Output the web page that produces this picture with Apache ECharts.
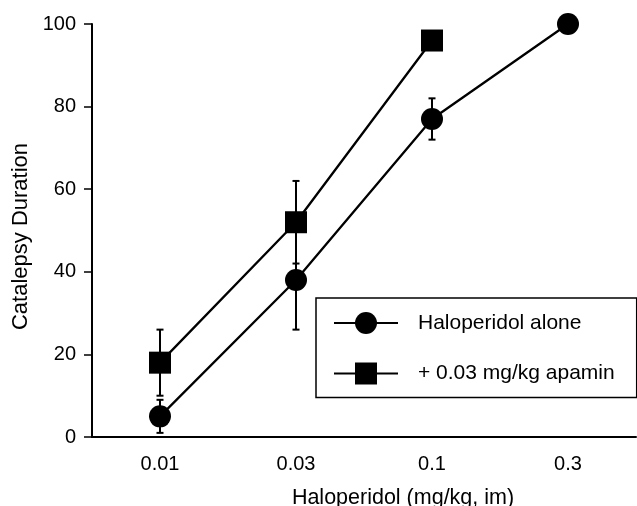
<!DOCTYPE html>
<html>
<head>
<meta charset="utf-8">
<script src="https://cdn.jsdelivr.net/npm/echarts@6/dist/echarts.min.js"></script>
<style>
    html, body { margin: 0; padding: 0; background: #fff; }
    #chart { width: 637px; height: 506px; }
</style>
</head>
<body>
<div id="chart"></div>
<script>
const doses = ["0.01", "0.03", "0.1", "0.3"];
const aloneMean = [5, 38, 77, 100];
const aloneErr = [4, 12, 5, 0];
const apaminMean = [18, 52, 96, null];
const apaminErr = [8, 10, 0, null];
const yTicks = [0, 20, 40, 60, 80, 100];

const FONT = "Liberation Sans";

// error bars as [categoryIndex, low, high]
function errRows(mean, err) {
    const rows = [];
    mean.forEach((m, i) => {
        if (m == null || !err[i]) return;
        rows.push([i, m - err[i], m + err[i]]);
    });
    return rows;
}

function renderErr(params, api) {
    const lo = api.coord([api.value(0), api.value(1)]);
    const hi = api.coord([api.value(0), api.value(2)]);
    const cap = 3.5;
    const style = { stroke: "#000", lineWidth: 2 };
    return {
        type: "group",
        children: [
            { type: "line", shape: { x1: lo[0], y1: lo[1], x2: hi[0], y2: hi[1] }, style },
            { type: "line", shape: { x1: lo[0] - cap, y1: lo[1], x2: lo[0] + cap, y2: lo[1] }, style },
            { type: "line", shape: { x1: hi[0] - cap, y1: hi[1], x2: hi[0] + cap, y2: hi[1] }, style },
        ],
    };
}

const chart = echarts.init(document.getElementById("chart"));

const option = {
    backgroundColor: "#fff",
    animation: false,
    textStyle: { fontFamily: FONT, color: "#000" },
    grid: { left: 92, right: 1, top: 24, bottom: 69, containLabel: false, outerBoundsMode: "none" },
    legend: {
        orient: "vertical",
        left: 316,
        top: 298,
        padding: [14, 22, 13, 17],
        itemWidth: 64,
        itemHeight: 27.5,
        itemGap: 28.5,
        borderColor: "#000",
        borderWidth: 1.5,
        borderRadius: 0,
        textStyle: { fontSize: 21, color: "#000", fontFamily: FONT, padding: [0, 0, 0, 15] },
        data: ["Haloperidol alone", "+ 0.03 mg/kg apamin"],
    },
    xAxis: {
        type: "category",
        data: doses,
        boundaryGap: true,
        name: "Haloperidol (mg/kg, im)",
        nameLocation: "middle",
        nameGap: 50,
        nameTextStyle: { fontSize: 21.5, color: "#000", padding: [0, 0, 0, 78] },
        axisLine: { lineStyle: { color: "#000", width: 2 } },
        axisTick: { alignWithLabel: true, length: 7, lineStyle: { color: "#000", width: 1.5 } },
        axisLabel: { fontSize: 20, color: "#000", margin: 17 },
        splitLine: { show: false },
    },
    yAxis: {
        type: "value",
        min: 0,
        max: 100,
        interval: 20,
        name: "Catalepsy Duration",
        nameLocation: "middle",
        nameGap: 56,
        nameTextStyle: { fontSize: 22, color: "#000", padding: [0, 12, 0, 0] },
        axisLine: { show: true, lineStyle: { color: "#000", width: 2 } },
        axisTick: { show: true, length: 8, lineStyle: { color: "#000", width: 1.5 } },
        axisLabel: {
            fontSize: 20,
            color: "#000",
            margin: 16,
            formatter: (v) => (yTicks.includes(v) ? String(v) : ""),
        },
        splitLine: { show: false },
    },
    series: [
        {
            name: "Haloperidol alone",
            type: "line",
            data: aloneMean,
            symbol: "circle",
            symbolSize: 22,
            z: 3,
            lineStyle: { color: "#000", width: 2.3 },
            itemStyle: { color: "#000", borderWidth: 0 },
        },
        {
            name: "+ 0.03 mg/kg apamin",
            type: "line",
            data: apaminMean,
            symbol: "rect",
            symbolSize: 22,
            z: 3,
            lineStyle: { color: "#000", width: 2.3 },
            itemStyle: { color: "#000", borderWidth: 0 },
        },
        {
            type: "custom",
            renderItem: renderErr,
            data: errRows(aloneMean, aloneErr),
            encode: { x: 0, y: [1, 2] },
            z: 2,
            silent: true,
        },
        {
            type: "custom",
            renderItem: renderErr,
            data: errRows(apaminMean, apaminErr),
            encode: { x: 0, y: [1, 2] },
            z: 2,
            silent: true,
        },
    ],
};

chart.setOption(option);
</script>
</body>
</html>
